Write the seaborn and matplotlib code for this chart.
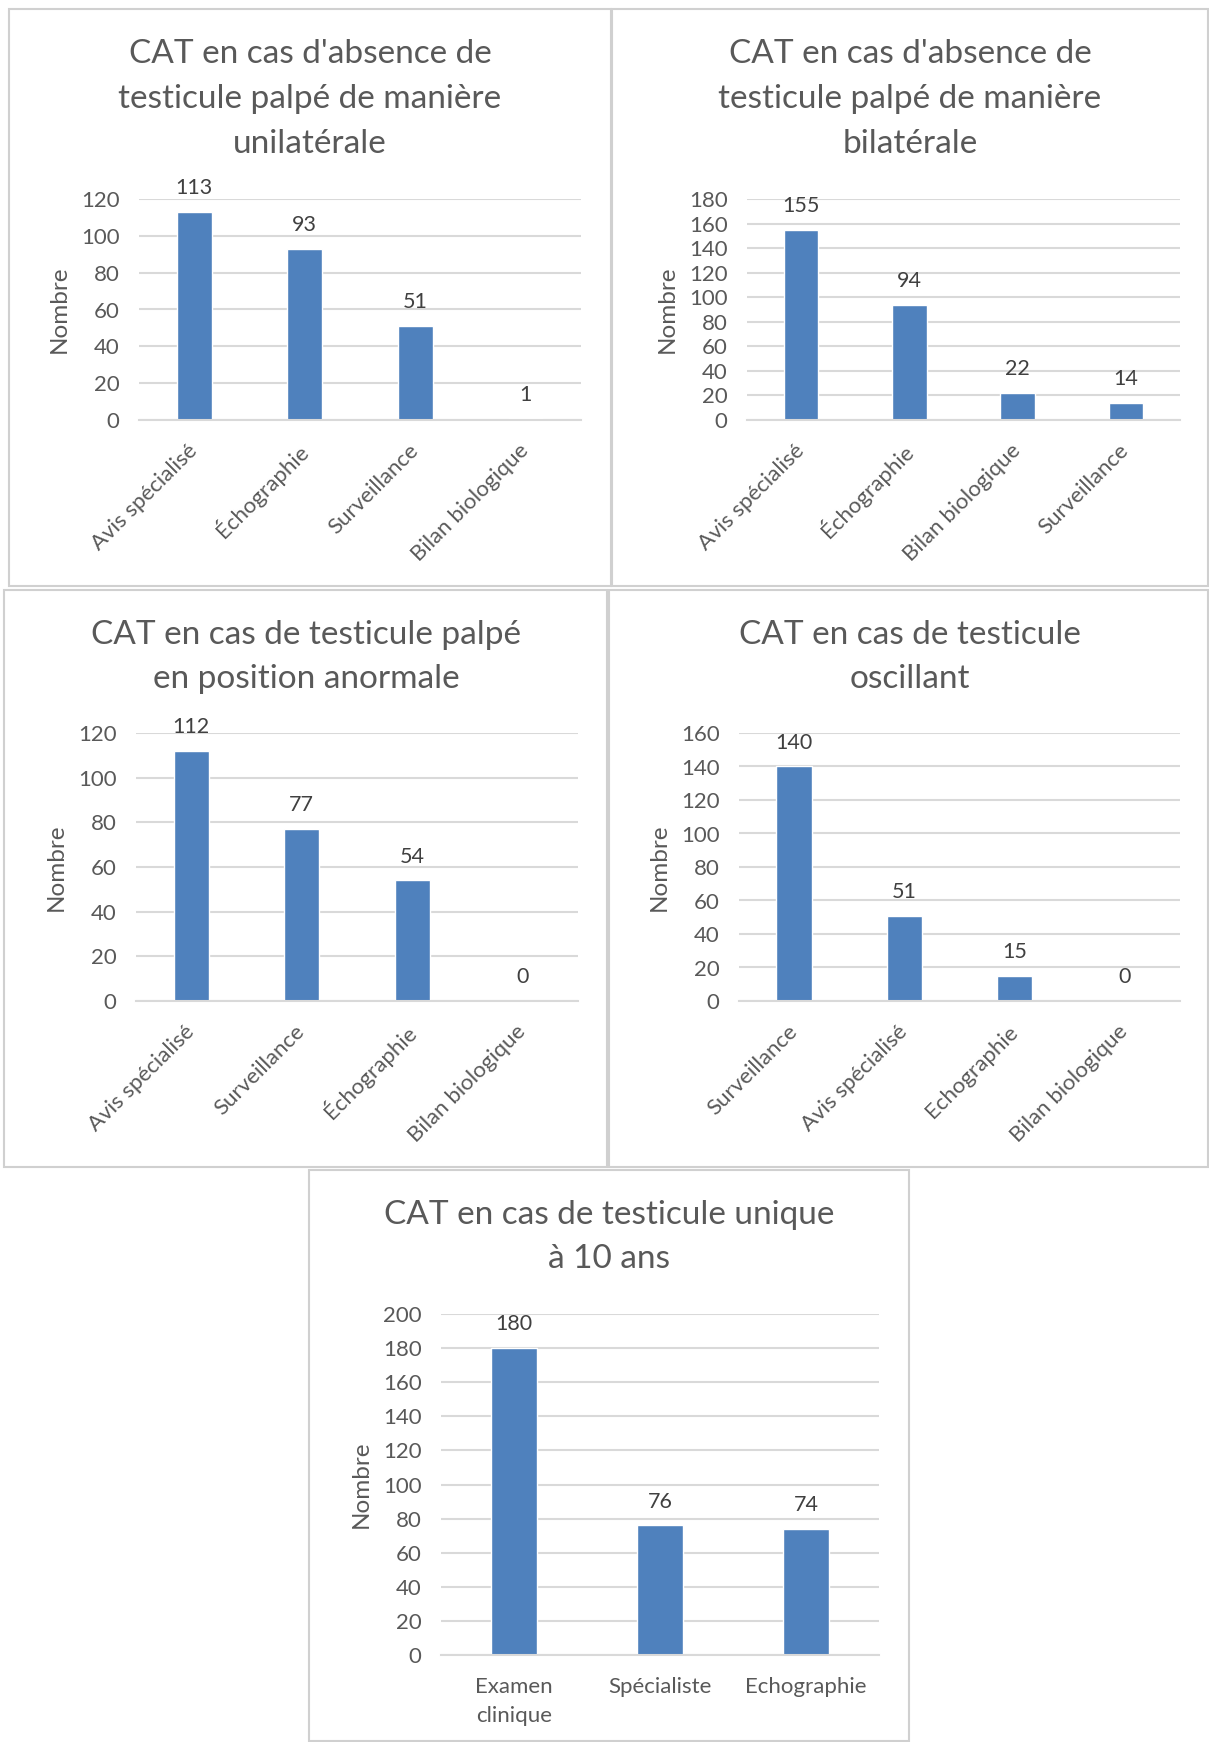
import matplotlib
matplotlib.use("Agg")
import matplotlib.pyplot as plt
import seaborn as sns
from matplotlib.patches import Rectangle

# data
cats1 = ["Avis spécialisé", "Échographie", "Surveillance", "Bilan biologique"]
vals1 = [113, 93, 51, 1]
cats2 = ["Avis spécialisé", "Échographie", "Bilan biologique", "Surveillance"]
vals2 = [155, 94, 22, 14]
cats3 = ["Avis spécialisé", "Surveillance", "Échographie", "Bilan biologique"]
vals3 = [112, 77, 54, 0]
cats4 = ["Surveillance", "Avis spécialisé", "Echographie", "Bilan biologique"]
vals4 = [140, 51, 15, 0]
cats5 = ["Examen\nclinique", "Spécialiste", "Echographie"]
vals5 = [180, 76, 74]

titles = [
    "CAT en cas d'absence de\ntesticule palpé de manière\nunilatérale",
    "CAT en cas d'absence de\ntesticule palpé de manière\nbilatérale",
    "CAT en cas de testicule palpé\nen position anormale",
    "CAT en cas de testicule\noscillant",
    "CAT en cas de testicule unique\nà 10 ans",
]
ymax = [120, 180, 120, 160, 200]

sns.set_style("white")
plt.rcParams['font.family'] = ['Lato', 'DejaVu Sans']

W, H = 1209, 1742
BLUE = "#4F81BD"
GREY = "#595959"
GRID = "#D9D9D9"

fig = plt.figure(figsize=(W / 100, H / 100), dpi=100)
fig.patch.set_facecolor("white")


def rect(x0, y0, x1, y1):
    return [x0 / W, 1 - y1 / H, (x1 - x0) / W, (y1 - y0) / H]


# panel box, axes box, title center x, title center y
panels = [
    ((9, 9, 611, 586), (139, 199, 581, 420), 310, 99),
    ((612, 9, 1208, 586), (747, 199, 1180, 420), 910, 99),
    ((4, 590, 607, 1167), (136, 733, 578, 1001), 306, 657),
    ((609, 590, 1208, 1167), (739, 733, 1180, 1001), 910, 657),
    ((309, 1170, 909, 1741), (441, 1314, 879, 1655), 609, 1237),
]
data = [(cats1, vals1), (cats2, vals2), (cats3, vals3), (cats4, vals4), (cats5, vals5)]

for i, ((box, abox, tx, ty), (cats, vals)) in enumerate(zip(panels, data)):
    bx0, by0, bx1, by1 = box
    fig.patches.append(Rectangle((bx0 / W, 1 - by1 / H), (bx1 - bx0) / W, (by1 - by0) / H,
                                 transform=fig.transFigure, fill=False,
                                 edgecolor="#D0D0D0", linewidth=1.5))
    ax = fig.add_axes(rect(*abox))
    sns.barplot(x=cats, y=vals, ax=ax, color=BLUE, saturation=1, width=0.32)
    ax.set_ylim(0, ymax[i])
    ax.set_yticks(range(0, ymax[i] + 1, 20))
    ax.set_xlim(-0.5, len(cats) - 0.5)
    ax.yaxis.grid(True, color=GRID, linewidth=1.5)
    ax.set_axisbelow(True)
    for s in ["top", "right", "left"]:
        ax.spines[s].set_visible(False)
    ax.spines["bottom"].set_color(GRID)
    ax.spines["bottom"].set_linewidth(1.5)
    ax.tick_params(length=0, labelsize=16, labelcolor=GREY)
    ax.tick_params(axis="y", pad=14)
    ax.set_ylabel("Nombre", fontsize=17.5, color=GREY, labelpad=8)
    ax.set_xlabel("")
    if i < 4:
        for lab in ax.get_xticklabels():
            lab.set_rotation(45)
            lab.set_ha("right")
            lab.set_va("center")
            lab.set_rotation_mode("anchor")
        ax.tick_params(axis="x", pad=20)
    else:
        for lab in ax.get_xticklabels():
            lab.set_linespacing(1.55)
        ax.tick_params(axis="x", pad=16)
    for j, v in enumerate(vals):
        ax.annotate(str(v), (j, v), xytext=(0, 17), textcoords="offset points",
                    ha="center", va="center", fontsize=15.5, color="#404040")
    fig.text(tx / W, 1 - ty / H, titles[i], ha="center", va="center",
             fontsize=24, color=GREY, linespacing=1.62)

fig.savefig("out.png", dpi=100, facecolor="white")
